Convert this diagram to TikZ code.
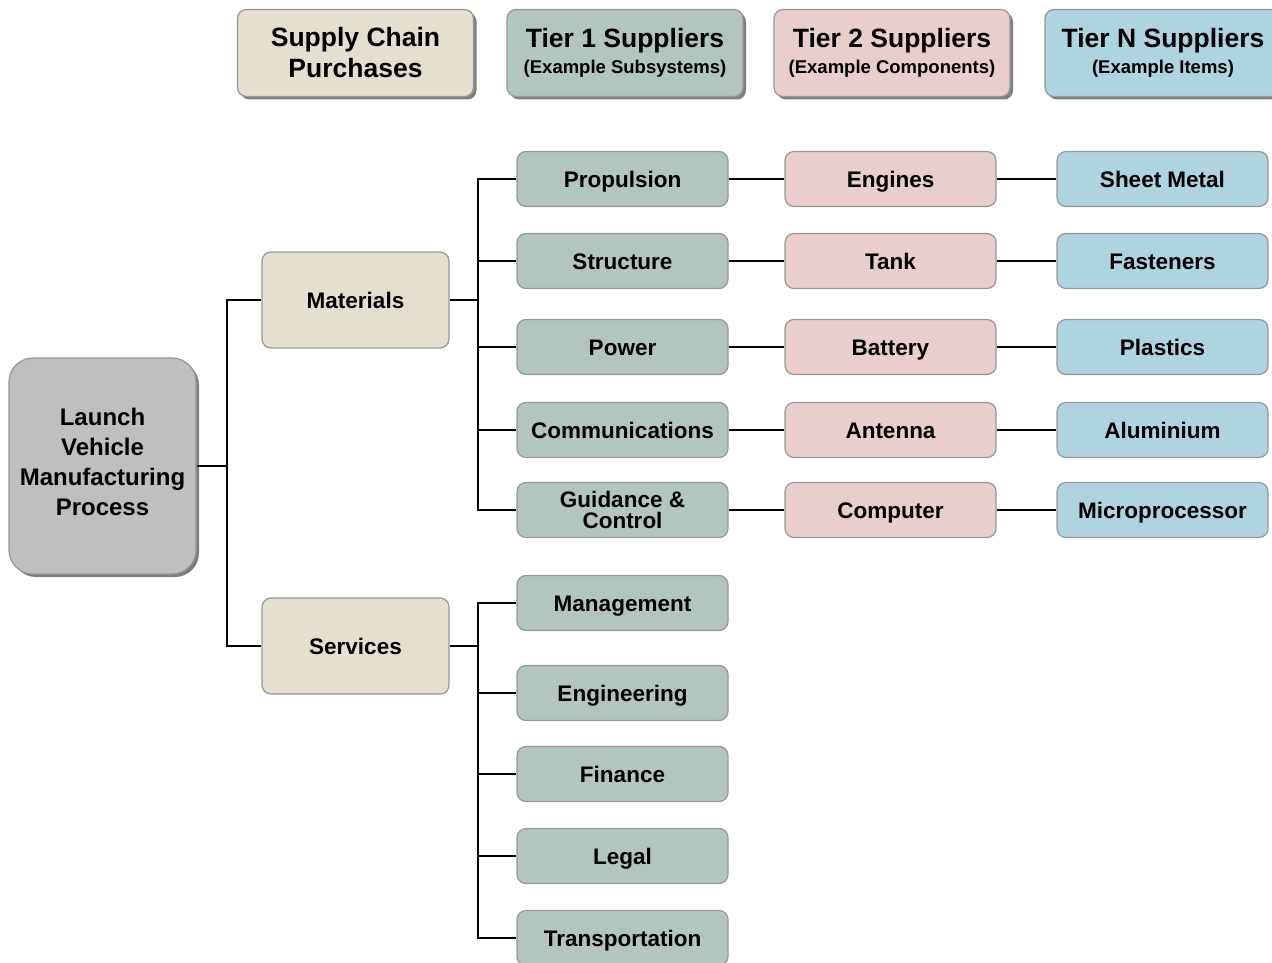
\documentclass[tikz,border=0pt]{standalone}
\usepackage{fontspec}
\setmainfont{Liberation Sans}
\usetikzlibrary{shadows}
\definecolor{purchbg}{HTML}{E5DFD0}
\definecolor{tieronebg}{HTML}{B2C5BF}
\definecolor{tiertwobg}{HTML}{E8CFCD}
\definecolor{tiernbg}{HTML}{AED5DF}
\definecolor{rootbg}{HTML}{BFBFBF}
\definecolor{boxline}{HTML}{979797}
\definecolor{shadowgray}{HTML}{7F7F7F}

\begin{document}
\begin{tikzpicture}[x=1pt,y=-1pt]
 \tikzstyle{box}=[draw=boxline,line width=1.2pt,rounded corners=9pt,align=center,inner sep=2pt,font=\fontsize{22.5}{21}\selectfont\bfseries]
 \tikzstyle{shade}=[drop shadow={shadow xshift=3pt,shadow yshift=-3pt,fill=shadowgray,opacity=1}]
 \tikzstyle{head}=[box,shade,minimum width=236pt,minimum height=87pt,font=\fontsize{26.5}{26}\selectfont\bfseries]
 \tikzstyle{oneline}=[text height=16.2pt,text depth=0pt]
 \tikzstyle{sub}=[box,minimum width=211pt,minimum height=55pt]
 \tikzstyle{mid}=[box,oneline,fill=purchbg,minimum width=187pt,minimum height=96pt]
 \tikzstyle{link}=[line width=1.7pt]
\clip (0,0) rectangle (1272,963);
\node[head,fill=purchbg,font=\fontsize{26.5}{31}\selectfont\bfseries] (hpurch) at (355.5,53) {Supply Chain\\Purchases};
\node[head,fill=tieronebg] (htone) at (625,53) {Tier 1 Suppliers\\{\fontsize{18.5}{20}\selectfont(Example Subsystems)}};
\node[head,fill=tiertwobg] (httwo) at (892,53) {Tier 2 Suppliers\\{\fontsize{18.5}{20}\selectfont(Example Components)}};
\node[head,fill=tiernbg] (htn) at (1163,53) {Tier N Suppliers\\{\fontsize{18.5}{20}\selectfont(Example Items)}};

\node[box,shade,fill=rootbg,rounded corners=24pt,minimum width=187pt,minimum height=216pt,text depth=8pt,font=\fontsize{24}{30}\selectfont\bfseries] (lv) at (102.5,466) {Launch\\Vehicle\\Manufacturing\\Process};
\node[mid] (mat) at (355.5,300) {Materials};
\node[mid] (srv) at (355.5,646) {Services};

\coordinate (jroot) at (227,466);
\coordinate (jmat) at (478,300);
\coordinate (jsrv) at (478,646);
\draw[link] (lv.east) -- (jroot) |- (mat.west);
\draw[link] (jroot) |- (srv.west);
\draw[link] (mat.east) -- (jmat);
\draw[link] (srv.east) -- (jsrv);

\foreach \y/\a/\b/\c [count=\i] in {179/Propulsion/Engines/Sheet Metal,
  261/Structure/Tank/Fasteners,
  347/Power/Battery/Plastics,
  430/Communications/Antenna/Aluminium}{
 \node[sub,oneline,fill=tieronebg] (sub\i) at (622.5,\y) {\a};
 \node[sub,oneline,fill=tiertwobg] (comp\i) at (890.5,\y) {\b};
 \node[sub,oneline,fill=tiernbg] (item\i) at (1162.5,\y) {\c};
 \draw[link] (jmat) |- (sub\i.west);
 \draw[link] (sub\i.east) -- (comp\i.west);
 \draw[link] (comp\i.east) -- (item\i.west);
}
\node[sub,fill=tieronebg] (sub5) at (622.5,510) {Guidance \&\\Control};
\node[sub,oneline,fill=tiertwobg] (comp5) at (890.5,510) {Computer};
\node[sub,oneline,fill=tiernbg] (item5) at (1162.5,510) {Microprocessor};
\draw[link] (jmat) |- (sub5.west);
\draw[link] (sub5.east) -- (comp5.west);
\draw[link] (comp5.east) -- (item5.west);

\foreach \y/\a [count=\i] in {603/Management,693/Engineering,774/Finance,856/Legal,938/Transportation}{
 \node[sub,oneline,fill=tieronebg] (svc\i) at (622.5,\y) {\a};
 \draw[link] (jsrv) |- (svc\i.west);
}
\end{tikzpicture}
\end{document}
